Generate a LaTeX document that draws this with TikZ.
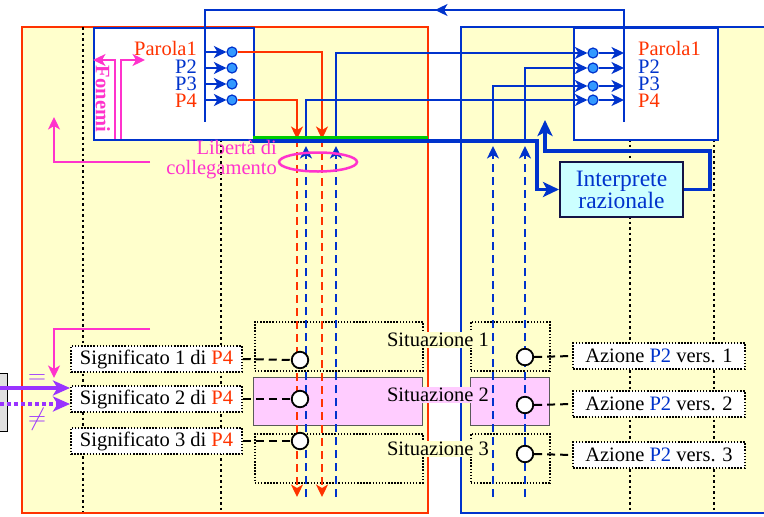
\documentclass[tikz,border=0pt]{standalone}
\usepackage{fontspec}
\setmainfont{Liberation Serif}
\usetikzlibrary{arrows.meta,calc}
\definecolor{cred}{RGB}{255,51,0}
\definecolor{cblue}{RGB}{0,51,204}
\definecolor{cyel}{RGB}{255,255,204}
\definecolor{cmag}{RGB}{255,51,204}
\definecolor{cpink}{RGB}{255,204,255}
\definecolor{ccyan}{RGB}{204,255,255}
\definecolor{cgreen}{RGB}{0,204,0}
\definecolor{cviol}{RGB}{153,51,255}
\definecolor{ccirc}{RGB}{51,153,255}
\definecolor{cdark}{RGB}{20,20,70}
\tikzset{
  txt/.style={font=\fontsize{20.5}{20}\selectfont, inner sep=0pt},
  ar/.style={-{Stealth[length=12.5pt,width=12pt,inset=3.5pt]}},
  bigar/.style={-{Stealth[length=16pt,width=15pt,inset=4pt]}},
  guide/.style={black, line width=2.7pt, dash pattern=on 2.7pt off 2.8pt},
  topbox/.style={draw=cblue, line width=2pt, fill=white, inner sep=0pt, anchor=north west},
  pcirc/.style={circle, draw=cblue, fill=ccirc, minimum size=10pt, inner sep=0pt, line width=1.2pt},
  wcirc/.style={circle, draw=black, fill=white, minimum size=16.5pt, inner sep=0pt, line width=1.8pt},
  dline/.style={line width=2pt, dash pattern=on 8pt off 5pt},
  kdash/.style={black, line width=2pt, dash pattern=on 8pt off 5pt},
  sitdot/.style={draw=black, line width=1.5pt, dash pattern=on 1.5pt off 1.6pt, inner sep=0pt, anchor=north west},
  sitpink/.style={draw=black!65, line width=1.3pt, fill=cpink, inner sep=0pt, anchor=north west},
  sbox/.style={txt, draw=black, line width=1.5pt, dash pattern=on 1.5pt off 1.6pt, fill=white, minimum height=26pt},
  slabel/.style={txt, inner sep=1.5pt},
  thk/.style={cblue, line width=3.5pt},
  thn/.style={cblue, line width=2pt},
}
\begin{document}
\begin{tikzpicture}[x=1pt,y=-1pt]
\useasboundingbox (0,0) rectangle (764,517);
% panels
\draw[cred, line width=2.5pt, fill=cyel] (22,27) rectangle (428,513);
\fill[cyel] (461,27) rectangle (768,513);
\draw[cblue, line width=2.5pt] (768,27) -- (461,27) -- (461,513) -- (768,513);
% guides
\foreach \x/\y in {83/27, 221/139, 630/139, 714/139} \draw[guide] (\x,\y) -- (\x,512);
% top boxes
\node[topbox, minimum width=160pt, minimum height=112pt] (lbox) at (93,27) {};
\node[topbox, minimum width=144pt, minimum height=112pt] (rbox) at (573,27) {};
% situation boxes
\node[sitdot, minimum width=168pt, minimum height=49pt] (s1l) at (254,321) {};
\node[sitdot, minimum width=79pt, minimum height=49pt] (s1r) at (470,321) {};
\node[sitpink, minimum width=169pt, minimum height=48pt] (s2l) at (253,377) {};
\node[sitpink, minimum width=79pt, minimum height=48pt] (s2r) at (470,377) {};
\node[sitdot, minimum width=168pt, minimum height=49pt] (s3l) at (254,433) {};
\node[sitdot, minimum width=79pt, minimum height=49pt] (s3r) at (470,433) {};
\node[slabel, fill=cyel] (sl1) at (438,340) {Situazione 1};
\node[slabel, fill=cpink] (sl2) at (438,395) {Situazione 2};
\node[slabel, fill=cyel] (sl3) at (438,449) {Situazione 3};
% word circles
\foreach \n/\y in {1/52,2/68,3/84,4/100} \node[pcirc] (lc\n) at (232,\y) {};
\foreach \n/\y in {1/53,2/68,3/86,4/100} \node[pcirc] (rc\n) at (593,\y) {};
% word labels
\node[txt, anchor=base east, text=cred] (lw1) at (197,55) {Parola1};
\node[txt, anchor=base east, text=cblue] (lw2) at (197,73) {P2};
\node[txt, anchor=base east, text=cblue] (lw3) at (197,90) {P3};
\node[txt, anchor=base east, text=cred] (lw4) at (197,107) {P4};
\node[txt, anchor=base west, text=cred] (rw1) at (638,55) {Parola1};
\node[txt, anchor=base west, text=cblue] (rw2) at (638,73) {P2};
\node[txt, anchor=base west, text=cblue] (rw3) at (638,90) {P3};
\node[txt, anchor=base west, text=cred] (rw4) at (638,107) {P4};
% top feedback loop
\coordinate (lvt) at (205,10); \coordinate (lvb) at (205,122);
\coordinate (rvt) at (624,10); \coordinate (rvb) at (624,122);
\coordinate (topar) at (435,10);
\draw[thn] (rvb) -- (rvt) -- (lvt) -- (lvb);
\draw[thn, ar] (rvt) -- (topar);
\foreach \n in {1,...,4} {
  \draw[thn, ar] (lc\n.west -| lvt) -- (lc\n.west);
  \draw[thn, ar] (rc\n.east) -- (rc\n.east -| rvt);
}
% red links
\coordinate (r1t) at (322,139); \coordinate (r1b) at (322,497);
\coordinate (r4t) at (297,139); \coordinate (r4b) at (297,497);
\draw[cred, dline, ar] (r1t) -- (r1b);
\draw[cred, dline, ar] (r4t) -- (r4b);
\draw[cred, line width=2pt, ar] (lc1.east) -| (r1t);
\draw[cred, line width=2pt, ar] (lc4.east) -| (r4t);
% blue links
\coordinate (b1) at (336,141); \coordinate (b4) at (306,141);
\coordinate (b2) at (525,141); \coordinate (b3) at (493,141);
\draw[thn, ar] (b1) |- (rc1.west);
\draw[thn, ar] (b4) |- (rc4.west);
\draw[thn, ar] (b2) |- (rc2.west);
\draw[thn, ar] (b3) |- (rc3.west);
\foreach \x in {306,336,493,525} {
  \coordinate (u\x) at (\x,146); \coordinate (d\x) at (\x,497);
  \draw[cblue, dline, ar] (d\x) -- (u\x);
}
% green + thick line, interpreter
\draw[cgreen, line width=2.5pt] (253,137.5) -- (428,137.5);
\node[txt, font=\fontsize{23.5}{22}\selectfont, align=center, text=cblue, draw=cdark, line width=2pt, fill=ccyan, minimum width=123pt, minimum height=55pt] (interp) at (621.5,189.5) {Interprete\\razionale};
\coordinate (tkA) at (250,141); \coordinate (tkB) at (537,141);
\draw[thk, bigar] (tkA) -- (tkB) |- (interp.west);
\coordinate (ret1) at (710,151); \coordinate (ret2) at (545,120);
\draw[thk, bigar] (interp.east) -| (ret1) -| (ret2);
% Fonemi
\node[txt, font=\fontsize{20.5}{20}\selectfont\bfseries, text=cmag, rotate=-90] (fon) at (103,99) {Fonemi};
\coordinate (fl) at (115,139); \coordinate (fr) at (121,139);
\coordinate (fla) at (93,60); \coordinate (fra) at (145,60);
\draw[cmag, line width=2pt, ar] (fl) |- (fla);
\draw[cmag, line width=2pt, ar] (fr) |- (fra);
% Liberta di collegamento
\node[txt, text=cmag, align=right, anchor=east] (lib) at (277,160) {Libertà di\\collegamento};
\draw[cmag, line width=2.5pt] (318,162) ellipse [x radius=39, y radius=9.5];
\coordinate (m1s) at (150,162); \coordinate (m1e) at (54,117);
\draw[cmag, line width=2.5pt, ar] (m1s) -| (m1e);
\coordinate (m2s) at (150,329); \coordinate (m2e) at (54,378);
\draw[cmag, line width=2.5pt, ar] (m2s) -| (m2e);
% meanings
\node[sbox, minimum width=171pt] (sig1) at (156.5,359) {Significato 1 di \textcolor{cred}{P4}};
\node[sbox, minimum width=171pt] (sig2) at (156.5,399) {Significato 2 di \textcolor{cred}{P4}};
\node[sbox, minimum width=171pt] (sig3) at (156.5,441) {Significato 3 di \textcolor{cred}{P4}};
\foreach \n/\y in {1/360,2/399,3/441} {
  \node[wcirc] (cl\n) at (300,\y) {};
  \draw[kdash] (sig\n.east) -- (cl\n.west);
}
% actions
\node[sbox, minimum width=172pt] (az1) at (659,356) {Azione \textcolor{cblue}{P2} vers. 1};
\node[sbox, minimum width=172pt] (az2) at (659,404) {Azione \textcolor{cblue}{P2} vers. 2};
\node[sbox, minimum width=172pt] (az3) at (659,455) {Azione \textcolor{cblue}{P2} vers. 3};
\foreach \n/\y in {1/357,2/405,3/454} {
  \node[wcirc] (cr\n) at (525,\y) {};
  \draw[kdash] (cr\n.east) -- (az\n.west);
}
% left input
\node[draw=black, line width=1.2pt, fill=black!12, minimum width=12pt, minimum height=58pt, inner sep=0pt, anchor=north east] (gbox) at (8,373) {};
\coordinate (pa1) at (0,388); \coordinate (pa2) at (70,388);
\coordinate (pb1) at (0,404); \coordinate (pb2) at (70,404);
\draw[cviol, line width=3.5pt, -{Stealth[length=17pt,width=15pt,inset=4.5pt]}] (pa1) -- (pa2);
\draw[cviol, line width=3.5pt, dash pattern=on 3.5pt off 3.5pt, -{Stealth[length=17pt,width=15pt,inset=4.5pt]}] (pb1) -- (pb2);
\node[inner sep=0pt, text=cviol, font=\fontsize{26}{26}\selectfont] (eq) at (37,379) {$=$};
\node[inner sep=0pt, text=cviol, font=\fontsize{26}{26}\selectfont] (neq) at (37,419) {$\neq$};
\end{tikzpicture}
\end{document}
